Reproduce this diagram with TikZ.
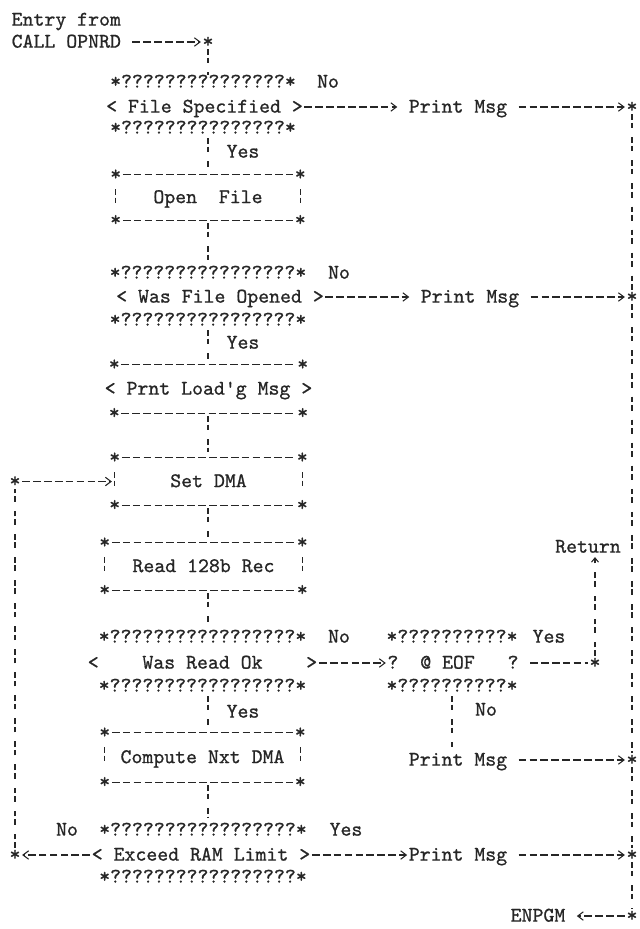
\documentclass[tikz,border=0pt]{standalone}
\usepackage{fontspec}
\usepackage{tikz}
\usetikzlibrary{positioning,arrows.meta,calc}
\newfontfamily\typer{lmmono10-regular.otf}[FakeBold=0.8]
\definecolor{ink}{HTML}{262626}
\newcommand{\qline}[1]{*\foreach \i in {1,...,#1}{?}*}
\newcommand{\ruledbox}[1]{% stars at the corners, dashed rules between them
  \foreach \c/\n in {north west/nw,north east/ne,south west/sw,south east/se}
    \node[mono] (#1\n) at (#1.\c) {*};
  \draw[rule] (#1nw) -- (#1ne);
  \draw[rule] (#1sw) -- (#1se);
}
\newcommand{\sidebars}[1]{% broken bars on both sides
  \draw[sidebar] (#1nw) -- (#1sw);
  \draw[sidebar] (#1ne) -- (#1se);
}
\tikzset{
  mono/.style={font=\typer\fontsize{14.8}{17}\selectfont,text=ink,inner sep=1pt,text height=8pt,text depth=0pt},
  procbox/.style={mono},
  rule/.style={draw=ink,line width=0.75pt,dash pattern=on 5.5pt off 2.25pt},
  vrule/.style={draw=ink,line width=0.75pt,dash pattern=on 4pt off 2pt on 4pt off 6.4pt},
  sidebar/.style={draw=ink,line width=0.75pt,dash pattern=on 4pt off 2pt on 4pt off 30pt,shorten <=5pt,shorten >=5pt},
  arr/.style={rule,-{Straight Barb[length=4pt,width=6pt]}},
}

\begin{document}
\begin{tikzpicture}[x=1cm,y=1cm]
\fill[white] (0,0) rectangle (16,-23.225);
\useasboundingbox (0,0) rectangle (16,-23.225);

% entry
\node[mono,anchor=west] (entry) at (0.25,-0.5) {Entry from};
\node[mono,anchor=west] (call) at (0.25,-1.05) {CALL OPNRD};
\node[mono] (s0) at (5.2,-1.05) {*};

% file specified
\node[mono] (d1t) at (5.075,-2.05) {\qline{15}};
\node[mono] (d1) at (5.1125,-2.675) {<~File Specified~>};
\node[mono] (d1b) at (5.075,-3.2) {\qline{15}};
\node[mono] (no1) at (8.2,-2.05) {No};
\node[mono] (pm1) at (11.45,-2.675) {Print Msg};
\node[mono] (s1) at (15.8,-2.675) {*};
\node[mono] (yes1) at (6.075,-3.8) {Yes};

% open file
\node[procbox,minimum width=4.6cm,minimum height=1.125cm] (b1) at (5.2,-4.9375) {Open~~File};
\ruledbox{b1}
\sidebars{b1}

% was file opened
\node[mono] (d2t) at (5.2,-6.825) {\qline{16}};
\node[mono] (d2) at (5.5,-7.425) {<~Was File Opened~>};
\node[mono] (d2b) at (5.2,-8.0) {\qline{16}};
\node[mono] (no2) at (8.475,-6.825) {No};
\node[mono] (pm2) at (11.75,-7.425) {Print Msg};
\node[mono] (s2) at (15.8,-7.425) {*};
\node[mono] (yes2) at (6.075,-8.575) {Yes};

% loading message, set DMA, read record
\node[procbox,minimum width=4.675cm,minimum height=1.2cm,inner xsep=-7pt] (b2) at (5.2125,-9.725) {<~Prnt Load\textquotesingle g Msg~>};
\ruledbox{b2}
\node[procbox,minimum width=4.675cm,minimum height=1.175cm] (b3) at (5.2125,-12.0375) {Set DMA};
\ruledbox{b3}
\sidebars{b3}
\node[mono] (sl1) at (0.375,-12.0375) {*};
\node[procbox,minimum width=4.925cm,minimum height=1.175cm] (b4) at (5.0875,-14.1625) {Read 128b Rec};
\ruledbox{b4}
\sidebars{b4}
\node[mono] (ret) at (14.7,-13.675) {Return};

% was read ok, EOF test
\node[mono] (d3t) at (5.0625,-15.925) {\qline{17}};
\node[mono] (d3) at (5.0625,-16.575) {<~~~~Was Read Ok~~~~>};
\node[mono] (d3b) at (5.0625,-17.15) {\qline{17}};
\node[mono] (no3) at (8.475,-15.925) {No};
\node[mono] (eoft) at (11.3,-15.925) {\qline{10}};
\node[mono] (eof) at (11.325,-16.575) {?~~@ EOF~~~?};
\node[mono] (eofb) at (11.3,-17.15) {\qline{10}};
\node[mono] (yes3) at (13.725,-15.925) {Yes};
\node[mono] (sr) at (14.875,-16.575) {*};
\node[mono] (yes4) at (6.075,-17.8) {Yes};
\node[mono] (no4) at (12.15,-17.75) {No};
\node[mono] (pm3) at (11.45,-19.0) {Print Msg};
\node[mono] (s3) at (15.8,-19.0) {*};

% compute next DMA
\node[procbox,minimum width=4.875cm,minimum height=1.225cm] (b5) at (5.0625,-18.9375) {Compute Nxt DMA};
\ruledbox{b5}
\sidebars{b5}

% exceed RAM limit
\node[mono] (d4t) at (5.075,-20.75) {\qline{17}};
\node[mono] (d4) at (5.025,-21.375) {<~Exceed RAM Limit~>};
\node[mono] (d4b) at (5.075,-21.925) {\qline{17}};
\node[mono] (no5) at (1.675,-20.75) {No};
\node[mono] (sl2) at (0.375,-21.375) {*};
\node[mono] (yes5) at (8.65,-20.75) {Yes};
\node[mono] (pm4) at (11.45,-21.375) {Print Msg};
\node[mono] (s4) at (15.8,-21.375) {*};
\node[mono] (s5) at (15.8,-22.9) {*};
\node[mono] (enpgm) at (13.45,-22.9) {ENPGM};

% main column
\draw[vrule] (s0) -- (d1t.north -| s0);
\foreach \a/\b in {d1b/b1,b1/d2t,d2b/b2,b2/b3,b3/b4,b4/d3t,d3b/b5,b5/d4t}
  \draw[vrule,shorten <=2pt,shorten >=4pt] (\a.south -| s0) -- (\b.north -| s0);

% branches
\draw[arr,shorten <=7pt] (call) -- (s0);
\draw[arr,shorten >=7pt] (d1) -- (pm1);
\draw[arr,shorten <=7pt] (pm1) -- (s1);
\draw[arr,shorten >=7pt] (d2) -- (pm2);
\draw[arr,shorten <=7pt] (pm2) -- (s2);
\draw[arr,shorten >=2pt] (sl1) -- (b3.west);
\draw[arr] (d3) -- (eof);
\draw[rule,shorten <=7pt] (eof) -- (sr);
\draw[vrule,-{Straight Barb[length=3pt,width=5pt]},shorten >=2pt] (sr) -- (sr |- ret.south);
\draw[vrule,shorten <=2pt,shorten >=4pt] (eofb.south) -- (eofb.south |- pm3.north);
\draw[arr,shorten <=7pt] (pm3) -- (s3);
\draw[arr] (d4) -- (sl2);
\draw[vrule] (sl2) -- (sl1);
\draw[arr] (d4) -- (pm4);
\draw[arr,shorten <=7pt] (pm4) -- (s4);
\draw[arr,shorten >=7pt] (s5) -- (enpgm);
\draw[vrule] (s1) -- (s2) -- (s3) -- (s4) -- (s5);
\end{tikzpicture}
\end{document}
